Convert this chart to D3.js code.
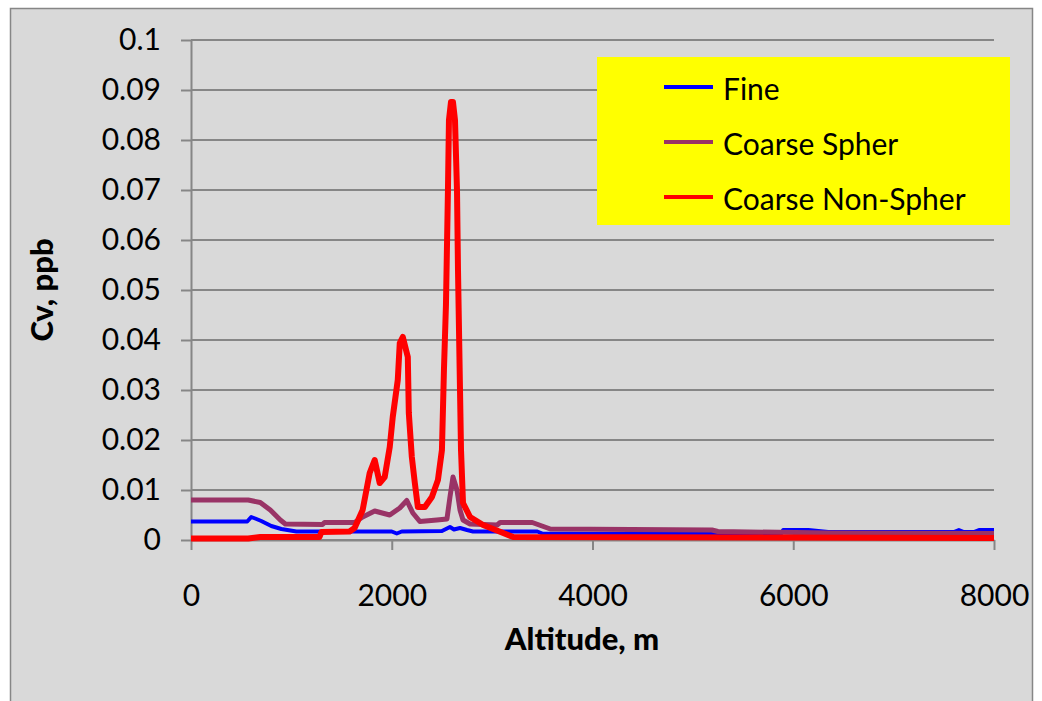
<!DOCTYPE html>
<html>
<head>
<meta charset="utf-8">
<script src="https://cdn.jsdelivr.net/npm/d3@7"></script>
<style>
  body { margin: 0; background: #fff; }
  svg { display: block; font-family: Lato, "Open Sans", sans-serif; }
</style>
</head>
<body>
<script>
"use strict";
(function(){
  // series data: altitude (m) and Cv (ppb)
  const seriesNames = ["Fine", "Coarse Spher", "Coarse Non-Spher"]
  const fineAlt = [0, 560, 600, 640, 700, 800, 900, 1050, 1500, 2000, 2050, 2100, 2500, 2580, 2620, 2680, 2750, 2810, 3450, 3500, 4000, 5000, 5190, 5880, 5900, 6150, 6350, 7000, 7600, 7650, 7700, 7800, 7850, 8000]
  const fineCv = [0.0037, 0.0037, 0.0046, 0.0043, 0.0038, 0.0028, 0.0022, 0.0017, 0.0017, 0.0017, 0.0013, 0.0017, 0.0018, 0.0026, 0.0021, 0.0024, 0.0020, 0.0017, 0.0017, 0.0013, 0.0012, 0.0012, 0.0013, 0.0013, 0.0020, 0.0020, 0.0016, 0.0016, 0.0016, 0.0020, 0.0016, 0.0016, 0.0020, 0.0020]
  const spherAlt = [0, 570, 690, 790, 890, 940, 1310, 1330, 1630, 1710, 1830, 1980, 2080, 2150, 2210, 2280, 2450, 2550, 2580, 2610, 2650, 2680, 2710, 2780, 3050, 3080, 3400, 3580, 5190, 5250, 6350, 8000]
  const spherCv = [0.0080, 0.0080, 0.0075, 0.0060, 0.0040, 0.0032, 0.0031, 0.0035, 0.0035, 0.0046, 0.0058, 0.0050, 0.0064, 0.0079, 0.0054, 0.0037, 0.0040, 0.0042, 0.0086, 0.0126, 0.0100, 0.0060, 0.0040, 0.0032, 0.0030, 0.0035, 0.0035, 0.0022, 0.0020, 0.0017, 0.0014, 0.0013]
  const nonSpherAlt = [0, 570, 690, 1280, 1300, 1580, 1630, 1710, 1780, 1830, 1880, 1930, 1980, 2010, 2060, 2080, 2110, 2160, 2170, 2200, 2230, 2260, 2330, 2400, 2460, 2500, 2520, 2540, 2560, 2570, 2590, 2610, 2630, 2650, 2660, 2680, 2690, 2710, 2780, 2910, 3110, 3210, 8000]
  const nonSpherCv = [0.0003, 0.0003, 0.0006, 0.0006, 0.0016, 0.0017, 0.0024, 0.0060, 0.0134, 0.0160, 0.0114, 0.0126, 0.0186, 0.0246, 0.0320, 0.0394, 0.0406, 0.0366, 0.0254, 0.0166, 0.0114, 0.0066, 0.0066, 0.0086, 0.0120, 0.0180, 0.0340, 0.0470, 0.0700, 0.0840, 0.0876, 0.0876, 0.0840, 0.0700, 0.0540, 0.0300, 0.0180, 0.0074, 0.0046, 0.0030, 0.0014, 0.0006, 0.0004]
  const xTicks = [0, 2000, 4000, 6000, 8000]
  const yTicks = [0, 0.01, 0.02, 0.03, 0.04, 0.05, 0.06, 0.07, 0.08, 0.09, 0.1]

  const colors = ["#0000ff", "#993366", "#ff0000"]
  const widths = [4, 5, 6]

  const series = [
    d3.zip(fineAlt, fineCv),
    d3.zip(spherAlt, spherCv),
    d3.zip(nonSpherAlt, nonSpherCv)
  ]

  const m = { width: 1042, height: 701 }
  const svg = d3.select("body").append("svg")
      .attr("width", m.width)
      .attr("height", m.height)

  // chart area
  svg.append("rect")
      .attr("x", 10.5).attr("y", 8.5)
      .attr("width", 1022).attr("height", 720)
      .attr("fill", "#d9d9d9")
      .attr("stroke", "#868686")
      .attr("stroke-width", 1.5)

  const x = d3.scaleLinear().domain([0, 8000]).range([191, 994])
  const y = d3.scaleLinear().domain([0, 0.1]).range([540, 40])

  // gridlines
  svg.append("g")
    .selectAll("line")
    .data(yTicks)
    .enter()
    .append("line")
      .attr("x1", x(0)).attr("x2", x(8000))
      .attr("y1", d => y(d)).attr("y2", d => y(d))
      .attr("stroke", "#868686")
      .attr("stroke-width", 2)

  const yAxis = svg.append("g")
      .attr("transform", "translate(" + x(0) + ",0)")
      .call(d3.axisLeft(y).tickValues(yTicks).tickSize(10).tickSizeOuter(0).tickPadding(20)
        .tickFormat(d => d === 0 ? "0" : d3.format(".2~f")(d)))
  yAxis.select(".domain").attr("stroke", "#868686").attr("stroke-width", 2)
  yAxis.selectAll(".tick line").attr("stroke", "#868686").attr("stroke-width", 2)
  yAxis.selectAll("text").attr("font-size", 30).attr("fill", "#000")
      .attr("font-family", "Lato, 'Open Sans', sans-serif")

  const xAxis = svg.append("g")
      .attr("transform", "translate(0," + y(0) + ")")
      .call(d3.axisBottom(x).tickValues(xTicks).tickSize(10).tickSizeOuter(0).tickPadding(35)
        .tickFormat(d3.format("d")))
  xAxis.select(".domain").attr("stroke", "#868686").attr("stroke-width", 2)
  xAxis.selectAll(".tick line").attr("stroke", "#868686").attr("stroke-width", 2)
  xAxis.selectAll("text").attr("font-size", 30).attr("fill", "#000")
      .attr("font-family", "Lato, 'Open Sans', sans-serif")

  // series lines
  const line = d3.line()
      .x(d => x(d[0]))
      .y(d => y(d[1]))
  svg.append("g")
    .selectAll("path")
    .data(series)
    .enter()
    .append("path")
      .attr("d", d => line(d))
      .attr("fill", "none")
      .attr("stroke", (d, i) => colors[i])
      .attr("stroke-width", (d, i) => widths[i])
      .attr("stroke-linejoin", "round")

  // axis titles
  svg.append("text")
      .attr("x", 582).attr("y", 650)
      .attr("text-anchor", "middle")
      .attr("font-size", 31).attr("font-weight", 900)
      .text("Altitude, m")
  svg.append("text")
      .attr("transform", "translate(53,290) rotate(-90)")
      .attr("text-anchor", "middle")
      .attr("font-size", 31).attr("font-weight", 900)
      .text("Cv, ppb")

  // legend
  const legend = svg.append("g")
  legend.append("rect")
      .attr("x", 597).attr("y", 57)
      .attr("width", 413).attr("height", 168)
      .attr("fill", "#ffff00")
  const rows = legend.selectAll(".row")
    .data(seriesNames)
    .enter()
    .append("g")
      .attr("class", "row")
      .attr("transform", (d, i) => "translate(0," + (87 + i * 55) + ")")
  rows.append("line")
      .attr("x1", 664).attr("x2", 713)
      .attr("stroke", (d, i) => colors[i])
      .attr("stroke-width", 4)
  rows.append("text")
      .attr("x", 723).attr("y", 13)
      .attr("font-size", 30)
      .text(d => d)
})();
</script>
</body>
</html>
